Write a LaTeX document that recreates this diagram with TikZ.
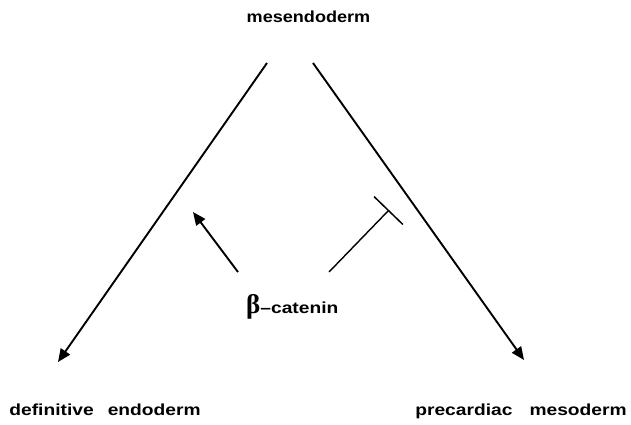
\documentclass[tikz,border=0pt]{standalone}
\usepackage{fontspec}
\setmainfont{Liberation Sans}
\newfontfamily\betafont{Liberation Serif}
\usetikzlibrary{arrows.meta}
\begin{document}
\begin{tikzpicture}[x=1pt,y=-1pt,
  lbl/.style={font=\fontsize{16}{18}\selectfont\bfseries, inner sep=0pt, anchor=base},
  conn/.style={line width=1.9pt, -{Triangle[length=13pt,width=11pt]}},
  inh/.style={line width=1.4pt, -{Bar[width=40pt,line width=1.5pt]}}]
\useasboundingbox (0,0) rectangle (631,424);
\node[lbl] (mes) at (308.5,22.3) {\scalebox{1.13}[1]{mesendoderm}};
\node[lbl] (def) at (105,415.5) {\scalebox{1.2}[1]{definitive\hspace{11.7pt}endoderm}};
\node[lbl] (pre) at (521,415.5) {\scalebox{1.2}[1]{precardiac\hspace{14.2pt}mesoderm}};
\node[inner sep=0pt, anchor=base west] (cat) at (246,313) {{\fontsize{27}{28}\selectfont\betafont\bfseries β}{\fontsize{16}{18}\selectfont\bfseries\scalebox{1.2}[1]{–catenin}}};
\coordinate (a1) at (267,63);
\coordinate (a2) at (58,362);
\coordinate (b1) at (313,63);
\coordinate (b2) at (524,360);
\coordinate (c1) at (238,272);
\coordinate (c2) at (193,212);
\coordinate (d1) at (329,272);
\coordinate (d2) at (389,210);
\draw[conn] (a1) -- (a2);
\draw[conn] (b1) -- (b2);
\draw[conn] (c1) -- (c2);
\draw[inh] (d1) -- (d2);
\end{tikzpicture}
\end{document}
